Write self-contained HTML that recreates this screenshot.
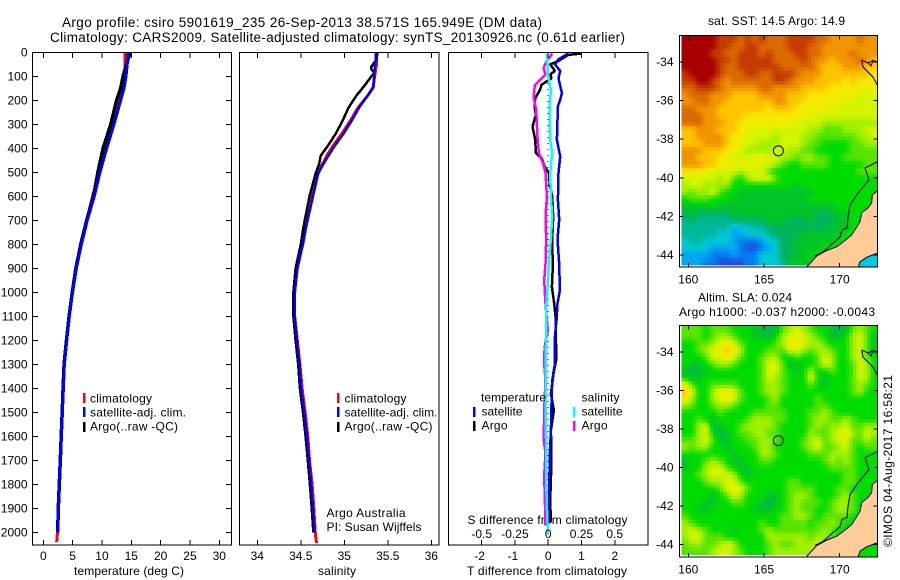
<!DOCTYPE html>
<html>
<head>
<meta charset="utf-8">
<title>Argo profile chart</title>
<style>
html,body{margin:0;padding:0;background:#fff;}
svg{display:block;}
text{font-family:"Liberation Sans",sans-serif;font-size:12px;fill:#000;}
.t{font-size:13.5px;}
</style>
</head>
<body>
<svg id="c" width="900" height="580" viewBox="0 0 900 580" xmlns="http://www.w3.org/2000/svg">
  <text class="t" x="62" y="27" textLength="480">Argo profile: csiro 5901619_235 26-Sep-2013 38.571S 165.949E (DM data)</text>
  <text class="t" x="50" y="42" textLength="575">Climatology: CARS2009. Satellite-adjusted climatology: synTS_20130926.nc (0.61d earlier)</text>

  <text x="74" y="575" textLength="110">temperature (deg C)</text>
  <text x="318" y="575" textLength="38">salinity</text>
  <text x="467" y="575" textLength="160">T difference from climatology</text>
  <text x="467.5" y="524" textLength="160">S difference from climatology</text>

  <text x="90" y="402.5" textLength="62">climatology</text>
  <text x="90" y="416.5" textLength="96">satellite-adj. clim.</text>
  <text x="90" y="430.5" textLength="88">Argo(..raw -QC)</text>
  <rect x="83" y="393" width="2.5" height="10" fill="#f00"/>
  <rect x="83" y="407" width="2.5" height="10" fill="#00f"/>
  <rect x="83" y="422" width="2.5" height="10" fill="#000"/>

  <text x="344.5" y="402.5" textLength="62">climatology</text>
  <text x="344.5" y="416.5" textLength="93">satellite-adj. clim.</text>
  <text x="344.5" y="430.5" textLength="88">Argo(..raw -QC)</text>
  <rect x="337" y="393" width="2.5" height="10" fill="#f00"/>
  <rect x="337" y="407" width="2.5" height="10" fill="#00f"/>
  <rect x="337" y="422" width="2.5" height="10" fill="#000"/>

  <text x="326.5" y="517" textLength="79">Argo Australia</text>
  <text x="326.5" y="531" textLength="95">PI: Susan Wijffels</text>

  <text x="708" y="25" textLength="137">sat. SST: 14.5 Argo: 14.9</text>
  <text x="698" y="301.5" textLength="94">Altim. SLA: 0.024</text>
  <text x="679" y="316" textLength="196">Argo h1000: -0.037 h2000: -0.0043</text>
  <text transform="translate(892,547) rotate(-90)" textLength="172">©IMOS 04-Aug-2017 16:58:21</text>

  <g id="layer"></g>

  <text x="481" y="401.5" textLength="65">temperature</text>
  <text x="581.5" y="401.5" textLength="38">salinity</text>
  <text x="481.5" y="415.5" textLength="41">satellite</text>
  <text x="481.5" y="429.5" textLength="26">Argo</text>
  <text x="581.5" y="415.5" textLength="41">satellite</text>
  <text x="581.5" y="429.5" textLength="26">Argo</text>
  <rect x="473" y="407" width="2.5" height="10" fill="#00f"/>
  <rect x="473" y="421" width="2.5" height="10" fill="#000"/>
  <rect x="573" y="407" width="2.5" height="10" fill="#0ff"/>
  <rect x="573" y="421" width="2.5" height="10" fill="#f0f"/>
</svg>
<script>
// ---------- tick labels ----------
const depthTicks = [0,100,200,300,400,500,600,700,800,900,1000,1100,1200,1300,1400,1500,1600,1700,1800,1900,2000];
const tempTicks = [0,5,10,15,20,25,30];
const salTicks = [34,34.5,35,35.5,36];
const diffTTicks = [-2,-1,0,1,2];
const diffSTicks = [-0.5,-0.25,0,0.25,0.5];
const diffSTickLabels = ['-0.5','-0.25','0','0.25','0.5'];
const lonTicks = [160,165,170];
const latTicks = [-34,-36,-38,-40,-42,-44];

// ---------- temperature profiles ----------
const tempDepths = [0,50,100,150,200,300,400,500,600,700,800,900,1000,1100,1200,1300,1400,1500,1600,1700,1800,1900,2000,2040];
const tempClim = [13.9,13.95,13.8,13.5,12.8,11.8,10.5,9.5,8.4,7.4,6.4,5.6,5.0,4.4,3.95,3.55,3.38,3.27,3.05,2.88,2.7,2.55,2.42,2.28];
const tempArgo = [14.8,14.2,13.6,13.2,12.5,11.5,10.2,9.3,8.55,7.4,6.4,5.55,4.95,4.4,3.95,3.55,3.38,3.22,3.05,2.9,2.73,2.56,2.45];
const tempSat = [14.5,14.3,14.1,13.75,13.2,12.05,10.8,9.66,8.7,7.5,6.5,5.65,5.0,4.45,4.0,3.6,3.42,3.25,3.07,2.9,2.73,2.56,2.45];

// ---------- salinity profiles ----------
const salDepths = [0,30,50,60,70,85,120,145,180,230,285,340,390,430,465,505,600,730,800,900,1000,1100,1200,1300,1400,1500,1600,1700,1800,1900,2000,2045];
const salClim = [35.37,35.37,35.37,35.365,35.36,35.355,35.34,35.335,35.27,35.16,35.07,34.97,34.87,34.80,34.75,34.69,34.62,34.55,34.52,34.46,34.43,34.43,34.46,34.49,34.515,34.55,34.58,34.60,34.63,34.65,34.665,34.68];
const salArgo = [35.38,35.37,35.33,35.31,35.31,35.345,35.27,35.22,35.14,35.05,34.98,34.90,34.81,34.73,34.71,34.67,34.60,34.53,34.50,34.44,34.415,34.415,34.44,34.47,34.49,34.525,34.555,34.58,34.605,34.625,34.645];
const salSat = [35.36,35.36,35.355,35.35,35.35,35.345,35.34,35.33,35.27,35.17,35.085,34.99,34.89,34.82,34.76,34.70,34.64,34.56,34.525,34.46,34.43,34.43,34.455,34.485,34.505,34.54,34.57,34.595,34.62,34.64,34.66];

// ---------- difference profiles ----------
const dTArgoDepths = [5,11,37,50,78,92,108,136,157,192,225,260,309,364,420,441,475,503,559,600,683,780,811,881,978,1047,1117,1200,1276,1339,1422,1492,1575,1700,1867,1960];
const dTArgo = [1.0,0.6,0.3,0.06,0.2,0.06,0.1,-0.2,-0.25,-0.39,-0.41,-0.37,-0.47,-0.39,-0.37,-0.2,-0.11,0.02,0.05,0.12,0.15,0.12,0.12,0.14,0.11,0.18,0.23,0.23,0.25,0.16,0.08,0.17,0.08,0.1,0.06,0.08];
const dTSatDepths = [5,30,50,78,108,170,197,225,364,434,503,614,697,780,881,992,1047,1117,1186,1297,1367,1464,1575,1671,1811,1978];
const dTSat = [0.6,0.3,0.2,0.36,0.31,0.41,0.36,0.29,0.26,0.36,0.31,0.29,0.33,0.28,0.33,0.35,0.28,0.25,0.2,0.2,0.12,0.1,0.08,0.05,0.03,-0.01];
const dSArgoDepths = [5,37,64,92,136,185,240,364,420,468,503,600,683,780,881,950,1047,1117,1158,1228,1297,1367,1492,1617,1671,1764,1867,1971];
const dSArgo = [0.03,-0.01,-0.035,-0.02,-0.1,-0.11,-0.09,-0.08,-0.07,-0.035,-0.02,-0.01,-0.02,-0.015,-0.02,-0.03,-0.02,-0.01,-0.002,-0.027,-0.03,-0.02,-0.03,-0.033,-0.02,-0.03,-0.025,-0.02];
const dSSatDepths = [5,100,157,225,364,420,503,600,683,780,811,881,950,1047,1158,1297,1436,1575,1640,1780,1900,2000];
const dSSat = [-0.01,0,0.02,0.01,0.015,0.03,0.015,0.02,0.03,0.02,0.015,0.005,-0.002,-0.013,-0.015,-0.018,-0.018,-0.018,-0.015,-0.015,-0.01,-0.002];

// ---------- map fields (colour-scale level per grid cell, north to south) ----------
const sstLevels = [
[0,0,0,0,0,1,1,1,2,1,2,1,2,2,2,1,1,1,1,2,2,3,3,3,3,2,3,3],
[0,0,0,0,0,1,1,2,2,1,1,2,2,2,2,1,1,1,2,2,3,3,3,3,3,3,3,3],
[0,0,0,0,1,1,2,2,1,1,1,2,1,2,2,2,1,1,2,2,3,3,3,3,2,3,3,3],
[0,0,0,0,0,1,1,2,1,1,1,1,1,2,2,2,2,1,2,3,3,4,3,3,3,2,3,4],
[0,0,0,0,0,1,2,2,1,1,1,1,1,1,2,2,2,2,2,3,4,4,4,3,3,3,4,4],
[1,0,0,0,0,1,2,2,2,1,1,2,2,1,1,1,2,3,3,3,4,4,4,4,4,4,4,5],
[1,1,0,0,1,2,3,2,2,2,2,2,2,1,1,2,3,3,3,4,4,4,4,5,4,5,5,5],
[2,2,1,1,1,2,3,3,3,3,3,2,2,3,3,3,3,4,4,4,4,5,5,5,5,5,5,5],
[3,2,2,2,3,3,3,4,4,4,4,3,3,3,3,4,4,4,5,5,5,5,5,5,5,6,6,6],
[3,3,2,2,3,3,4,4,4,4,4,4,4,3,3,4,4,5,5,5,5,5,5,6,6,6,6,6],
[2,2,3,3,3,4,4,4,4,4,4,4,5,4,4,4,5,5,5,5,5,6,6,6,6,6,6,6],
[2,2,2,3,3,4,4,4,4,5,5,5,5,5,5,5,5,5,6,6,6,6,6,6,6,6,6,6],
[2,2,2,3,3,3,4,4,5,5,5,5,5,5,5,5,6,6,6,6,7,7,7,7,7,7,7,7],
[4,4,3,3,3,4,4,4,5,5,6,6,6,6,6,6,6,6,7,7,8,8,8,7,7,7,6,6],
[4,4,3,3,3,3,4,5,5,6,6,6,6,7,6,6,6,7,7,8,8,8,8,8,8,7,7,6],
[4,4,4,3,3,3,4,5,5,6,6,7,7,7,6,6,6,7,8,8,9,9,9,9,8,8,7,7],
[3,3,3,4,4,4,5,5,6,7,7,7,7,6,6,7,7,8,8,9,9,9,9,9,8,8,8,8],
[3,3,4,4,4,5,5,6,6,6,5,5,6,6,7,7,8,7,7,8,8,9,9,8,8,8,8,8],
[3,3,3,4,4,5,5,6,5,5,6,6,6,7,8,9,9,8,8,8,8,9,9,9,9,9,8,8],
[5,5,5,5,6,6,6,6,7,6,6,6,8,9,9,9,9,9,9,9,9,9,9,9,9,8,8,8],
[6,6,6,6,6,7,6,8,9,7,6,6,6,8,9,9,9,9,9,9,9,9,9,9,9,9,9,9],
[7,6,6,7,7,7,7,9,9,9,9,9,9,9,9,9,10,9,9,9,9,9,9,9,9,9,9,9],
[7,8,7,7,6,8,9,9,10,10,10,10,10,10,10,10,10,10,10,9,9,9,9,9,9,9,9,9],
[9,8,8,8,9,9,9,10,10,10,10,10,10,10,10,10,10,10,9,9,9,9,9,9,9,9,9,9],
[10,10,10,10,9,10,10,10,10,10,10,10,10,10,10,10,10,10,10,10,10,10,9,9,9,9,9,9],
[11,10,11,11,11,11,11,10,10,10,10,10,10,10,10,10,10,10,10,11,11,10,10,10,9,9,9,9],
[12,11,12,12,12,12,12,11,11,11,11,11,10,10,10,11,11,11,10,11,11,11,10,10,9,9,9,9],
[12,12,12,12,12,12,12,14,13,13,12,12,11,11,11,11,11,11,11,11,11,10,10,10,9,9,9,9],
[12,12,12,12,12,13,13,14,14,13,13,13,12,11,11,11,11,10,10,10,10,10,10,9,9,9,9,9],
[13,12,12,13,13,13,13,14,15,15,15,14,13,13,11,11,10,10,10,10,10,10,9,9,9,9,9,9],
[13,13,13,13,14,14,14,14,15,16,16,15,14,13,11,11,10,10,10,10,9,9,9,9,9,9,9,9],
[14,14,14,14,15,15,15,14,15,15,15,13,13,13,11,11,10,10,9,9,9,9,9,9,9,9,9,9],
[14,14,14,15,15,16,16,16,16,15,15,13,13,13,12,10,10,10,10,10,9,9,9,9,9,9,9,9]
];
const slaLevels = [
[8,8,8,9,8,8,8,9,9,9,10,10,11,10,8,7,6,7,8,9,9,10,11,10,8,7,8,9],
[8,8,8,9,8,7,7,8,9,9,10,10,10,9,7,6,5,6,7,8,9,10,10,9,7,6,8,10],
[9,9,8,8,7,6,5,6,8,9,9,9,9,8,7,5,5,6,7,7,8,9,9,9,7,6,8,10],
[9,9,8,7,6,5,4,5,7,9,9,9,8,8,8,6,6,7,8,7,7,8,9,9,7,6,8,10],
[9,9,9,8,6,6,5,6,8,9,9,8,7,7,9,9,8,9,9,8,6,7,9,9,7,6,8,9],
[9,10,10,9,8,7,7,8,9,9,9,8,6,6,8,10,10,9,9,8,6,7,9,9,8,6,7,9],
[10,11,10,10,9,9,9,9,9,9,9,8,6,6,8,9,10,9,7,9,9,8,9,9,8,6,7,9],
[9,10,10,9,9,9,9,9,9,9,9,8,6,7,8,9,9,9,6,9,10,9,9,9,8,6,7,9],
[5,8,9,9,8,8,8,8,9,9,9,8,7,7,8,9,9,9,8,9,10,9,9,9,8,7,8,9],
[4,6,9,9,7,5,5,6,8,9,9,8,7,7,8,9,9,9,9,9,9,9,9,9,8,7,9,9],
[5,7,9,9,7,6,5,6,8,9,9,9,8,7,9,9,9,9,9,8,9,9,9,9,9,9,9,9],
[7,8,9,9,8,7,7,8,9,9,9,9,8,8,9,9,9,9,9,8,8,9,9,9,9,9,9,9],
[9,9,9,9,9,8,9,9,9,9,8,8,8,8,8,9,9,9,8,8,7,8,9,9,9,9,9,9],
[9,9,8,9,10,9,9,9,9,8,7,7,7,8,8,9,9,9,8,7,7,8,8,7,8,9,9,9],
[9,9,7,6,10,10,9,9,8,7,7,7,7,8,9,9,9,9,8,7,8,7,7,6,8,8,7,7],
[9,9,7,6,9,11,10,9,8,8,7,7,8,8,9,9,9,9,7,8,8,7,6,5,7,8,6,7],
[8,8,7,6,8,10,10,9,9,8,8,7,7,8,9,9,9,8,7,6,8,7,6,6,8,8,7,8],
[7,8,7,7,9,9,10,9,9,9,8,7,7,9,9,9,9,8,7,6,8,8,7,6,8,9,8,8],
[9,9,9,9,9,9,9,10,9,9,9,7,7,8,9,9,9,9,8,8,8,7,7,7,8,9,9,9],
[10,9,9,8,7,8,9,10,10,9,9,8,8,9,9,9,9,9,9,9,8,7,8,7,8,9,9,9],
[10,9,9,7,6,6,8,9,10,10,9,9,9,9,9,9,9,9,9,9,9,8,8,8,8,9,9,9],
[9,9,8,7,6,6,6,7,9,10,9,9,9,9,9,9,9,9,9,9,9,9,9,8,8,9,9,9],
[9,9,9,8,7,7,6,6,8,9,9,9,9,9,9,8,8,9,9,9,9,9,9,8,8,9,9,9],
[9,9,9,9,9,8,6,5,6,8,9,9,9,9,9,8,8,8,8,9,9,9,8,8,9,9,9,9],
[9,9,9,9,10,9,8,6,7,9,9,9,10,10,9,8,7,7,8,9,9,9,8,7,8,9,9,9],
[9,9,9,10,10,9,9,8,8,9,9,10,11,10,9,8,7,8,8,8,9,8,7,7,8,9,9,9],
[9,9,10,10,9,9,9,9,9,9,10,10,10,9,9,8,7,8,8,9,9,8,7,7,8,9,9,9],
[8,9,9,9,9,9,9,9,9,9,9,9,9,9,8,8,7,7,8,9,8,8,8,8,9,9,9,9],
[7,8,9,9,9,9,9,9,9,9,9,8,9,9,8,8,8,8,9,8,8,7,8,9,9,9,9,9],
[7,6,7,8,9,9,9,10,9,9,9,8,7,8,8,8,8,8,8,8,7,8,9,9,9,9,9,9],
[7,6,6,8,8,8,9,9,9,9,9,9,7,7,7,7,7,7,8,7,7,8,9,9,9,9,9,9],
[8,7,7,8,8,7,6,7,9,9,9,9,8,7,8,8,7,7,7,6,8,9,9,9,9,9,9,9],
[8,8,8,8,7,6,6,7,8,9,9,9,8,7,7,7,7,7,7,6,9,9,9,9,9,9,9,9]
];
const floatLon = 165.949;
const floatLat = -38.571;
const landLon = [167.82,168.48,169.09,169.80,170.22,170.79,171.08,171.34,171.45,171.87,172.11,172.15,172.5,172.5];
const landLat = [-44.62,-44.05,-43.79,-43.57,-43.33,-42.96,-42.60,-42.27,-41.82,-41.56,-41.31,-40.89,-40.67,-44.62];
const bayLon = [171.23,171.34,171.78,172.5,172.5];
const bayLat = [-44.62,-44.35,-44.12,-43.9,-44.62];
const contourLon = [172.46,171.67,171.93,171.21,170.68,170.55,170.48,170.15,170.02,169.56,168.9,168.37];
const contourLat = [-39.18,-39.49,-40.11,-40.79,-41.41,-42.03,-42.60,-42.70,-43.07,-43.38,-43.84,-44.05];
const northCoastLon = [171.45,171.54,172.2,172.48];
const northCoastLat = [-33.9,-34.26,-34.78,-35.19];
const northBlobLon = [171.45,171.87,172.2,172.07,171.87,172.2,172.5];
const northBlobLat = [-33.9,-34.05,-33.92,-34.2,-34.05,-33.92,-34];

// ---------- styles ----------
const palette = ['#a80000','#c43c00','#dc6a00','#f09400','#ffc400','#f4ea00','#d4f400','#a0f000','#58e400','#00dc00','#00c428','#00b45a','#00b898','#00c8d0','#00a8f0','#0080f0','#2050e0'];

// ---------- axis functions ----------
const depthY = d => 52.3 + d * 0.24;
const tempX = v => 43.3 + v * 5.867;
const salX = v => 257.3 + (v - 34) * 87;
const diffTX = v => 548.2 + v * 33.3;
const diffSX = v => 548.2 + v * 133;
const lonX = v => 688.3 + (v - 160) * 15.14;
const latY1 = v => 62 + (-34 - v) * 19.3;
const latY2 = v => 352 + (-34 - v) * 19.25;
const gridLon0 = 159.55, gridDLon = 0.4625, gridLat0 = -32.65, gridDLat = 0.3597;

const layer = document.getElementById('layer');
const NS = 'http://www.w3.org/2000/svg';
function mk(tag, attrs, parent) {
  const el = document.createElementNS(NS, tag);
  for (const k in attrs) el.setAttribute(k, attrs[k]);
  (parent || layer).appendChild(el);
  return el;
}
function label(str, x, y, anchor) {
  const el = mk('text', {x: x, y: y, 'text-anchor': anchor});
  el.textContent = str;
  
  
  return el;
}
function tick(x1, y1, x2, y2) {
  const el = mk('line', {x1: x1, y1: y1, x2: x2, y2: y2, stroke: '#000', 'stroke-width': 1, 'shape-rendering': 'crispEdges'});
  
  
}
function frame(x, y, w, h, name) {
  const el = mk('rect', {x: x, y: y, width: w, height: h, fill: 'none', stroke: '#000', 'stroke-width': 1, 'shape-rendering': 'crispEdges'});
  
  
}
function series(xs, ys, xFn, yFn, color, width, name) {
  const n = Math.min(xs.length, ys.length);
  const pts = [];
  for (let i = 0; i < n; i++) pts.push(xFn(xs[i]).toFixed(1) + ',' + yFn(ys[i]).toFixed(1));
  const el = mk('polyline', {points: pts.join(' '), fill: 'none', stroke: color, 'stroke-width': width, 'stroke-linejoin': 'bevel', 'shape-rendering': 'crispEdges'});
  
  
}

// ---------- panel 1: temperature ----------
series(tempClim, tempDepths, tempX, depthY, '#f00', 3, 'temperature-climatology-line');
series(tempArgo, tempDepths, tempX, depthY, '#000', 3.5, 'temperature-argo-line');
series(tempSat, tempDepths, tempX, depthY, '#00f', 3, 'temperature-satellite-line');
frame(32.5, 52.5, 199, 492.5, 'temperature-panel-frame');
depthTicks.forEach(d => {
  tick(33, depthY(d), 38, depthY(d));
  tick(226, depthY(d), 231, depthY(d));
  label(d, 27.5, depthY(d) + 4, 'end');
});
tempTicks.forEach(v => {
  tick(tempX(v), 53, tempX(v), 58);
  tick(tempX(v), 540, tempX(v), 545);
  label(v, tempX(v), 560, 'middle');
});

// ---------- panel 2: salinity ----------
series(salClim, salDepths, salX, depthY, '#f00', 3, 'salinity-climatology-line');
series(salArgo, salDepths, salX, depthY, '#000', 2.5, 'salinity-argo-line');
series(salSat, salDepths, salX, depthY, '#00f', 2.5, 'salinity-satellite-line');
frame(239.5, 52.5, 199.5, 492.5, 'salinity-panel-frame');
salTicks.forEach(v => {
  tick(salX(v), 53, salX(v), 58);
  tick(salX(v), 540, salX(v), 545);
  label(v, salX(v), 560, 'middle');
});

// ---------- panel 3: differences ----------
const zero = mk('line', {x1: diffTX(0), y1: 53, x2: diffTX(0), y2: 545, stroke: '#000', 'stroke-width': 1, 'stroke-dasharray': '1 5', 'shape-rendering': 'crispEdges'});


series(dTArgo, dTArgoDepths, diffTX, depthY, '#000', 2.5, 'delta-t-argo-line');
series(dTSat, dTSatDepths, diffTX, depthY, '#00f', 2.5, 'delta-t-satellite-line');
series(dSArgo, dSArgoDepths, diffSX, depthY, '#f0f', 2.5, 'delta-s-argo-line');
series(dSSat, dSSatDepths, diffSX, depthY, '#0ff', 2.5, 'delta-s-satellite-line');
frame(448.5, 52.5, 199.5, 492.5, 'difference-panel-frame');
diffTTicks.forEach(v => {
  tick(diffTX(v), 53, diffTX(v), 58);
  tick(diffTX(v), 540, diffTX(v), 545);
  label(v, diffTX(v) - (v < 0 ? 2 : 0), 560, 'middle');
});
diffSTicks.forEach((v, i) => {
  label(diffSTickLabels[i], diffSX(v), 538, 'middle');
});

// ---------- maps ----------
const paletteRgb = palette.map(h => [parseInt(h.slice(1,3),16), parseInt(h.slice(3,5),16), parseInt(h.slice(5,7),16)]);
function levelColor(v) {
  const i = Math.max(0, Math.min(paletteRgb.length - 2, Math.floor(v)));
  const f = v - i;
  const a = paletteRgb[i], b = paletteRgb[i + 1];
  return 'rgb(' + Math.round(a[0] + (b[0] - a[0]) * f) + ',' + Math.round(a[1] + (b[1] - a[1]) * f) + ',' + Math.round(a[2] + (b[2] - a[2]) * f) + ')';
}
function sampleField(levels, rf, cf) {
  const rows = levels.length, cols = levels[0].length;
  const r = Math.max(0, Math.min(rows - 1, rf)), c = Math.max(0, Math.min(cols - 1, cf));
  const r0 = Math.floor(r), c0 = Math.floor(c);
  const r1 = Math.min(rows - 1, r0 + 1), c1 = Math.min(cols - 1, c0 + 1);
  const fr = r - r0, fc = c - c0;
  return (levels[r0][c0] * (1 - fc) + levels[r0][c1] * fc) * (1 - fr) + (levels[r1][c0] * (1 - fc) + levels[r1][c1] * fc) * fr;
}
function drawMap(levels, latY, top, bottom, bayColor, name) {
  const SUB = 2;
  levels.forEach((row, r) => {
    row.forEach((level, c) => {
      for (let sr = 0; sr < SUB; sr++) {
        for (let sc = 0; sc < SUB; sc++) {
          const cu = c + sc / SUB, ru = r + sr / SUB;
          const x0 = Math.max(lonX(gridLon0 + cu * gridDLon), 681);
          const x1 = Math.min(lonX(gridLon0 + (cu + 1 / SUB) * gridDLon), 877.5);
          const y0 = latY(gridLat0 - ru * gridDLat);
          const y1 = latY(gridLat0 - (ru + 1 / SUB) * gridDLat);
          const v = sampleField(levels, ru + 0.5 / SUB - 0.5, cu + 0.5 / SUB - 0.5);
          const cell = mk('rect', {x: x0, y: y0, width: x1 - x0, height: y1 - y0 + 0.4, fill: levelColor(v), 'shape-rendering': 'crispEdges'});
          
          
        }
      }
    });
  });
  const toPts = (lons, lats) => lons.map((v, i) => lonX(v).toFixed(1) + ',' + latY(lats[i]).toFixed(1)).join(' ');
  const land = mk('polygon', {points: toPts(landLon, landLat) + ' 877.5,' + bottom + ' 806.7,' + bottom, fill: '#ffcc99', stroke: '#000', 'stroke-width': 1});
  
  
  const bay = mk('polygon', {points: toPts(bayLon, bayLat) + ' 877.5,' + bottom + ' 858.3,' + bottom, fill: bayColor, stroke: '#000', 'stroke-width': 1});
  
  
  const contour = mk('polyline', {points: toPts(contourLon, contourLat), fill: 'none', stroke: '#000', 'stroke-width': 1});
  
  
  const north = mk('polyline', {points: toPts(northCoastLon, northCoastLat), fill: 'none', stroke: '#000', 'stroke-width': 1});
  
  
  const blob = mk('polyline', {points: toPts(northBlobLon, northBlobLat), fill: 'none', stroke: '#000', 'stroke-width': 1});
  
  
  const marker = mk('circle', {cx: lonX(floatLon), cy: latY(floatLat) + 0.6, r: 5, fill: 'none', stroke: '#000', 'stroke-width': 1});
  
  
  frame(679.5, top, 198, bottom - top, name + '-frame');
  lonTicks.forEach(v => {
    tick(lonX(v), top, lonX(v), top + 4);
    tick(lonX(v), bottom - 4, lonX(v), bottom);
    label(v, lonX(v), bottom + 16.5, 'middle');
  });
  latTicks.forEach(v => {
    tick(679.5, latY(v), 683.5, latY(v));
    tick(873.5, latY(v), 877.5, latY(v));
    label(v, 673.5, latY(v) + 4, 'end');
  });
}
drawMap(sstLevels, latY1, 35.5, 267, '#00c8e8', 'sst-map');
drawMap(slaLevels, latY2, 325.5, 557, '#00dc00', 'sla-map');
</script>
</body>
</html>
